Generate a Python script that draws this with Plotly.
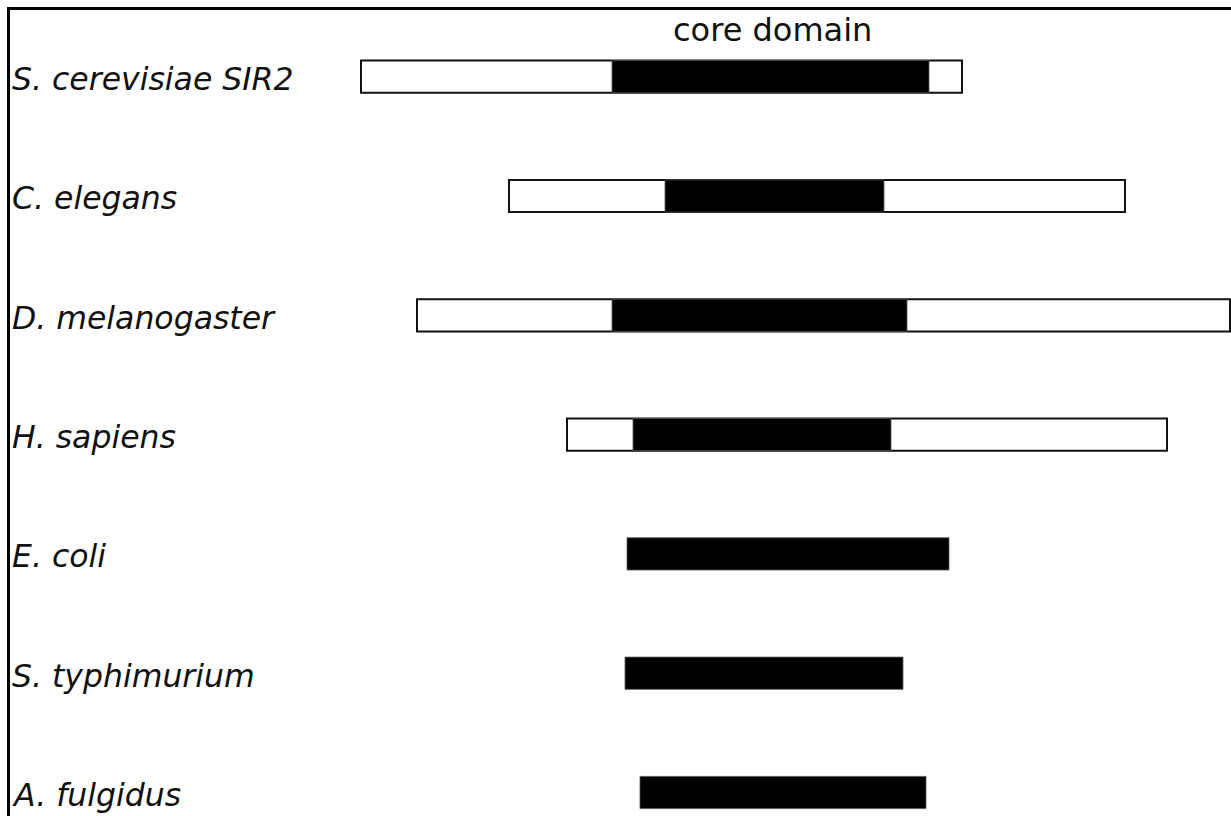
import plotly.graph_objects as go

# Data (horizontal scale positions)
species = ["S. cerevisiae SIR2", "C. elegans", "D. melanogaster", "H. sapiens",
           "E. coli", "S. typhimurium", "A. fulgidus"]
protein_start = [361, 509, 417, 567, None, None, None]
protein_end = [962, 1125, 1230, 1167, None, None, None]
core_start = [612, 665, 612, 633, 627, 625, 640]
core_end = [929, 884, 907, 891, 949, 903, 926]
core_label = "core domain"

idx = list(range(len(species)))

full_len = [None if s is None else e - s for s, e in zip(protein_start, protein_end)]
core_len = [e - s for s, e in zip(core_start, core_end)]

fig = go.Figure()
fig.add_trace(go.Bar(
    y=idx, x=full_len, base=protein_start, orientation="h", width=0.27,
    marker=dict(color="white", line=dict(color="#111111", width=2)),
    hoverinfo="skip", showlegend=False,
))
fig.add_trace(go.Bar(
    y=idx, x=core_len, base=core_start, orientation="h", width=0.27,
    marker=dict(color="black", line=dict(color="#555555", width=0.8)),
    hoverinfo="skip", showlegend=False,
))

for i, name in enumerate(species):
    fig.add_annotation(
        x=10, y=i + 0.02, xref="x", yref="y", text="<i>" + name + "</i>",
        showarrow=False, xanchor="left", yanchor="middle",
        font=dict(family="DejaVu Sans", size=31.5, color="#111111"),
    )

fig.add_annotation(
    x=772, y=1 - (30 - 10) / 806, xref="paper" if False else "x", yref="paper",
    text=core_label, showarrow=False, xanchor="center", yanchor="middle",
    font=dict(family="DejaVu Sans", size=32, color="#111111"),
)

fig.update_layout(
    width=1231, height=816,
    margin=dict(l=10, r=0, t=10, b=0),
    paper_bgcolor="white", plot_bgcolor="white",
    barmode="overlay",
    xaxis=dict(range=[10, 1231], showgrid=False, zeroline=False, showticklabels=False,
               ticks="", showline=True, linecolor="black", linewidth=3, side="top",
               fixedrange=True),
    yaxis=dict(range=[6.197, -0.559], showgrid=False, zeroline=False,
               showticklabels=False, ticks="", showline=True, linecolor="black",
               linewidth=3, fixedrange=True),
)

fig.write_html(
    "out.html",
    config={"displayModeBar": False},
    post_script="document.body.style.margin='0';document.body.style.overflow='hidden';",
)
